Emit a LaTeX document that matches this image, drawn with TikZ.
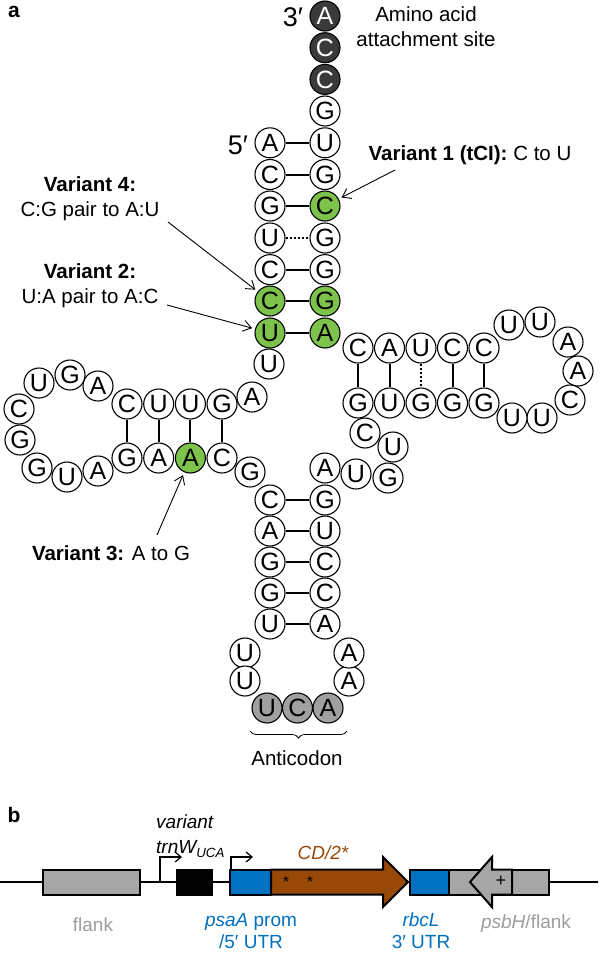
\documentclass[tikz,border=0pt]{standalone}
\usepackage{fontspec}
\setmainfont{Liberation Sans}
\usetikzlibrary{arrows.meta,decorations.pathreplacing}
\definecolor{ntgreen}{HTML}{7DC24B}
\definecolor{ntdark}{HTML}{3A3A3A}
\definecolor{ntgrey}{HTML}{A0A0A0}
\definecolor{genblue}{HTML}{0070C0}
\definecolor{genbrown}{HTML}{984807}
\definecolor{gengrey}{HTML}{A6A6A6}
\definecolor{txtgrey}{HTML}{9C9C9C}
\begin{document}
\begin{tikzpicture}[x=1pt,y=-1pt,
  nt/.style={circle,draw=black,line width=1.1pt,fill=white,minimum size=30pt,inner sep=0pt,font=\fontsize{25}{25}\selectfont},
  ntg/.style={nt,fill=ntgreen},
  ntd/.style={nt,fill=ntdark,text=white},
  nta/.style={nt,fill=ntgrey},
  bp/.style={line width=2pt},
  wob/.style={line width=2pt,dash pattern=on 2pt off 2pt},
  lab/.style={font=\fontsize{20.5}{25}\selectfont,inner sep=0pt},
  glab/.style={font=\fontsize{19}{22}\selectfont,inner sep=0pt},
  ptr/.style={line width=0.9pt,shorten >=3pt,-{Straight Barb[length=8pt,width=11pt]}},
  gbox/.style={draw=black,line width=2pt,minimum height=25pt,inner sep=0pt},
  prom/.style={line width=1.2pt,-{Straight Barb[length=6pt,width=10pt]}},
]
\useasboundingbox (0,0) rectangle (598,954);

% ---------- panel a ----------
\node[font=\fontsize{21}{21}\selectfont\bfseries] (pa) at (14,12) {a};

% acceptor stem, 3' strand
\node[ntd] (r1) at (325,16) {A};
\node[ntd] (r2) at (325,47.7) {C};
\node[ntd] (r3) at (325,79.4) {C};
\node[nt] (r4) at (325,111) {G};
\node[nt] (r5) at (325,142.8) {U};
\node[nt] (r6) at (325,174.5) {G};
\node[ntg] (r7) at (325,206) {C};
\node[nt] (r8) at (325,238) {G};
\node[nt] (r9) at (325,269.6) {G};
\node[ntg] (r10) at (325,301) {G};
\node[ntg] (r11) at (325,333) {A};
% acceptor stem, 5' strand
\node[nt] (l1) at (270,142.8) {A};
\node[nt] (l2) at (270,174.5) {C};
\node[nt] (l3) at (270,206) {G};
\node[nt] (l4) at (270,238) {U};
\node[nt] (l5) at (270,269.6) {C};
\node[ntg] (l6) at (270,301) {C};
\node[ntg] (l7) at (270,333) {U};
\node[nt] (l8) at (269,364) {U};
\node[nt] (j1) at (252,397) {A};
\draw[bp] (l1) -- (r5);
\draw[bp] (l2) -- (r6);
\draw[bp] (l3) -- (r7);
\draw[wob] (l4) -- (r8);
\draw[bp] (l5) -- (r9);
\draw[bp] (l6) -- (r10);
\draw[bp] (l7) -- (r11);

\node[font=\fontsize{27}{27}\selectfont,inner sep=0pt] (p3) at (293,17) {3′};
\node[font=\fontsize{27}{27}\selectfont,inner sep=0pt] (p5) at (238,145) {5′};
\node[lab,align=center] (aa) at (426,27) {Amino acid\\attachment site};

% D arm
\node[nt] (dt1) at (127,404) {C};
\node[nt] (dt2) at (158.7,404) {U};
\node[nt] (dt3) at (190.4,404) {U};
\node[nt] (dt4) at (222,404) {G};
\node[nt] (dl1) at (98,386) {A};
\node[nt] (dl2) at (70,375) {G};
\node[nt] (dl3) at (39,383) {U};
\node[nt] (dl4) at (19,409) {C};
\node[nt] (dl5) at (20,440) {G};
\node[nt] (dl6) at (37,468) {G};
\node[nt] (dl7) at (67,477) {U};
\node[nt] (dl8) at (98,471) {A};
\node[nt] (db1) at (127,458) {G};
\node[nt] (db2) at (158.7,458) {A};
\node[ntg] (db3) at (190.4,458) {A};
\node[nt] (db4) at (222,458) {C};
\node[nt] (j2) at (250,472) {G};
\draw[bp] (dt1) -- (db1);
\draw[bp] (dt2) -- (db2);
\draw[bp] (dt3) -- (db3);
\draw[bp] (dt4) -- (db4);

% anticodon arm
\node[nt] (al1) at (270,500) {C};
\node[nt] (al2) at (270,531) {A};
\node[nt] (al3) at (270,562) {G};
\node[nt] (al4) at (270,593) {G};
\node[nt] (al5) at (270,624) {U};
\node[nt] (ar1) at (325,500) {G};
\node[nt] (ar2) at (325,531) {U};
\node[nt] (ar3) at (325,562) {C};
\node[nt] (ar4) at (325,593) {C};
\node[nt] (ar5) at (325,624) {A};
\node[nt] (lp1) at (245,653) {U};
\node[nt] (lp2) at (245,681) {U};
\node[nta] (ac1) at (267,708) {U};
\node[nta] (ac2) at (297.5,708) {C};
\node[nta] (ac3) at (328,708) {A};
\node[nt] (lp3) at (349,681) {A};
\node[nt] (lp4) at (349,653) {A};
\foreach \i in {1,...,5} {\draw[bp] (al\i) -- (ar\i);}
\coordinate (brl) at (250,731);
\coordinate (brr) at (347,731);
\draw[line width=0.8pt,decorate,decoration={brace,amplitude=7pt,mirror}] (brl) -- (brr);
\node[lab] (antic) at (297,758) {Anticodon};

% variable loop
\node[nt] (v1) at (325,468) {A};
\node[nt] (v2) at (356,474) {U};
\node[nt] (v3) at (388,478) {G};
\node[nt] (v4) at (393,447) {U};
\node[nt] (v5) at (365,433) {C};

% T arm
\node[nt] (tb1) at (358,403) {G};
\node[nt] (tb2) at (389.5,403) {U};
\node[nt] (tb3) at (421,403) {G};
\node[nt] (tb4) at (452.5,403) {G};
\node[nt] (tb5) at (484,403) {G};
\node[nt] (tt1) at (358,348) {C};
\node[nt] (tt2) at (389.5,348) {A};
\node[nt] (tt3) at (421,348) {U};
\node[nt] (tt4) at (452.5,348) {C};
\node[nt] (tt5) at (484,348) {C};
\node[nt] (tl1) at (509,325) {U};
\node[nt] (tl2) at (540,322) {U};
\node[nt] (tl3) at (568,342) {A};
\node[nt] (tl4) at (578,371) {A};
\node[nt] (tl5) at (570,400) {C};
\node[nt] (tl6) at (542,418) {U};
\node[nt] (tl7) at (512,418) {U};
\draw[bp] (tt1) -- (tb1);
\draw[bp] (tt2) -- (tb2);
\draw[wob] (tt3) -- (tb3);
\draw[bp] (tt4) -- (tb4);
\draw[bp] (tt5) -- (tb5);

% variant labels and arrows
\node[lab] (lv1) at (470,155) {\textbf{Variant 1 (tCI):} C to U};
\node[lab,align=center] (lv4) at (90,199) {\textbf{Variant 4:}\\C:G pair to A:U};
\node[lab,align=center] (lv2) at (90,286) {\textbf{Variant 2:}\\U:A pair to A:C};
\node[lab] (lv3) at (111,553) {\textbf{Variant 3:} A to G};
\coordinate (v1t) at (395,170);
\coordinate (v4t) at (168,222);
\coordinate (v2t) at (167,305);
\coordinate (v3t) at (157,535);
\draw[ptr] (v1t) -- (r7);
\draw[ptr] (v4t) -- (l6);
\draw[ptr] (v2t) -- (l7);
\draw[ptr] (v3t) -- (db3);

% ---------- panel b ----------
\node[font=\fontsize{21}{21}\selectfont\bfseries] (pb) at (14,815) {b};
\coordinate (bbL) at (0,882);
\coordinate (bbR) at (598,882);
\draw[line width=1.5pt] (bbL) -- (bbR);
\node[gbox,fill=gengrey,minimum width=97pt] (flank) at (91.5,882) {};
\node[gbox,fill=black,minimum width=35pt] (trnw) at (194.5,882) {};
\node[gbox,fill=genblue,minimum width=41pt] (psaA) at (250.5,882) {};
\draw[line width=2pt,fill=genbrown,line join=miter] (271,869.5) -- (383,869.5) -- (383,857) -- (408,882) -- (383,907) -- (383,894.5) -- (271,894.5) -- cycle;
\node[gbox,fill=genblue,minimum width=39pt] (rbcL) at (429.5,882) {};
\node[gbox,fill=gengrey,minimum width=100pt] (psbH) at (499,882) {};
\draw[line width=2pt,fill=gengrey,line join=miter] (512,869.5) -- (492,869.5) -- (492,857) -- (470,882) -- (492,907) -- (492,894.5) -- (512,894.5) -- cycle;
\node[font=\fontsize{18}{18}\selectfont,inner sep=0pt] (plus) at (501,881) {+};
\node[font=\fontsize{16}{16}\selectfont,inner sep=0pt] (st1) at (286,882) {*};
\node[font=\fontsize{16}{16}\selectfont,inner sep=0pt] (st2) at (310,882) {*};
\coordinate (pr1a) at (160,882);
\coordinate (pr1b) at (160,857);
\coordinate (pr1c) at (182,857);
\draw[prom] (pr1a) -- (pr1b) -- (pr1c);
\coordinate (pr2a) at (231,869.5);
\coordinate (pr2b) at (231,857);
\coordinate (pr2c) at (253,857);
\draw[prom] (pr2a) -- (pr2b) -- (pr2c);

\node[glab,anchor=west] (tv) at (156,822) {\itshape variant};
\node[glab,anchor=west] (tt) at (156,849) {\itshape trnW\textsubscript{UCA}};
\node[glab,text=genbrown] (tcd) at (323,853) {\itshape CD/2*};
\node[glab,text=txtgrey] (tfl) at (93,925) {flank};
\node[glab,text=genblue,align=center] (tpsa) at (251,931) {\textit{psaA} prom\\/5′ UTR};
\node[glab,text=genblue,align=center] (trb) at (421,931) {\textit{rbcL}\\3′ UTR};
\node[glab,text=txtgrey] (tpsb) at (526,924) {\textit{psbH}/flank};
\end{tikzpicture}
\end{document}
